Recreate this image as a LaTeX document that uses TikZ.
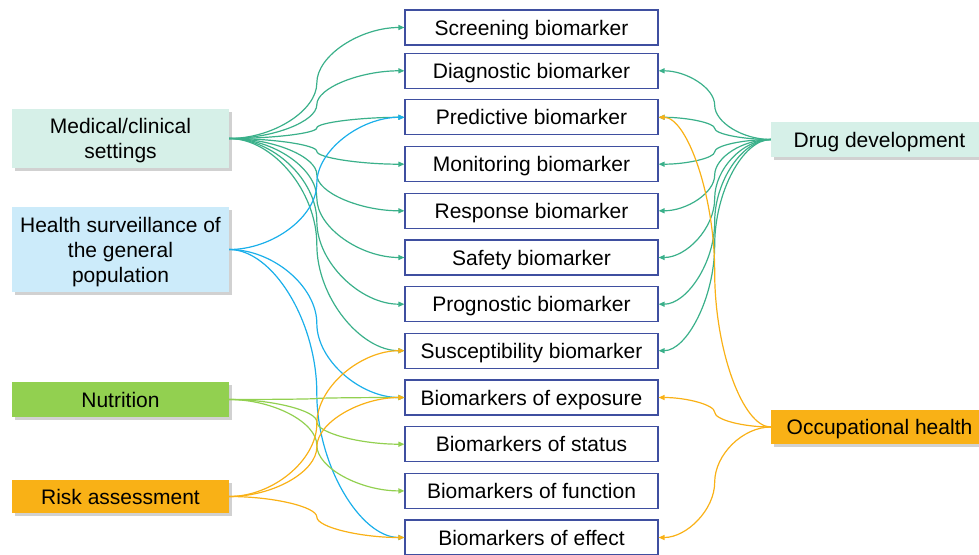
\documentclass[tikz,border=0pt]{standalone}
\usepackage{fontspec}
\setmainfont{Liberation Sans}
\usetikzlibrary{arrows.meta,calc,shadows}
\definecolor{cBorder}{HTML}{3F4FA0}
\definecolor{cMint}{HTML}{D6F0E8}
\definecolor{cSky}{HTML}{CCEBFA}
\definecolor{cLime}{HTML}{92D050}
\definecolor{cAmber}{HTML}{F9B116}
\definecolor{cTealLine}{HTML}{3AB08A}
\definecolor{cBlueLine}{HTML}{1AAFEA}
\definecolor{cLimeLine}{HTML}{92D050}
\definecolor{cAmberLine}{HTML}{F9B116}
\tikzset{
  bm/.style={draw=cBorder, line width=1.1pt, fill=white, minimum width=253pt,
    minimum height=35pt, inner sep=0pt, text height=15pt, text depth=0pt,
    font=\fontsize{21}{25}\selectfont},
  side/.style={minimum width=217pt, inner sep=0pt, align=center,
    font=\fontsize{21}{25}\selectfont,
    drop shadow={shadow xshift=2.5pt, shadow yshift=-2.5pt, fill=black!60, opacity=0.3}},
  oneline/.style={text height=15pt, text depth=0pt},
  ppcurve/.style={to path={let \p1=(\tikztostart), \p2=(\tikztotarget) in
    .. controls ({0.75*\x1+0.25*\x2},\y1) and ({0.5*\x1+0.5*\x2},{0.75*\y1+0.25*\y2})
    .. ({0.5*\x1+0.5*\x2},{0.5*\y1+0.5*\y2})
    .. controls ({0.5*\x1+0.5*\x2},{0.25*\y1+0.75*\y2}) and ({0.25*\x1+0.75*\x2},\y2)
    .. (\tikztotarget)}},
  conn/.style={line width=1.2pt, -{Triangle[length=6pt,width=5pt]}, ppcurve},
}
\begin{document}
\begin{tikzpicture}[x=1pt,y=-1pt]
\useasboundingbox (0,0) rectangle (979,554);
% centre column
\node[bm] (s1) at (531.5,27.5) {Screening biomarker};
\node[bm] (s2) at (531.5,70.8) {Diagnostic biomarker};
\node[bm] (s3) at (531.5,117.3) {Predictive biomarker};
\node[bm] (s4) at (531.5,164.2) {Monitoring biomarker};
\node[bm] (s5) at (531.5,210.8) {Response biomarker};
\node[bm] (s6) at (531.5,257.5) {Safety biomarker};
\node[bm] (s7) at (531.5,304.2) {Prognostic biomarker};
\node[bm] (s8) at (531.5,350.7) {Susceptibility biomarker};
\node[bm] (s9) at (531.5,397.5) {Biomarkers of exposure};
\node[bm] (s10) at (531.5,444.2) {Biomarkers of status};
\node[bm] (s11) at (531.5,490.9) {Biomarkers of function};
\node[bm] (s12) at (531.5,537.5) {Biomarkers of effect};
% left column
\node[side, fill=cMint, minimum height=59pt] (med) at (120.5,138.5) {\rule{0pt}{18.5pt}Medical/clinical\\settings};
\node[side, fill=cSky, minimum height=85pt] (hs) at (120.5,249.5) {\rule{0pt}{19.5pt}Health surveillance of\\the general\\population};
\node[side, oneline, fill=cLime, minimum height=35pt] (nut) at (120.5,399.5) {Nutrition};
\node[side, oneline, fill=cAmber, minimum height=33pt] (risk) at (120.5,496.5) {Risk assessment};
% right column
\node[side, oneline, fill=cMint, minimum height=35pt] (drug) at (879.5,139.5) {Drug development};
\node[side, oneline, fill=cAmber, minimum height=34pt] (occ) at (879.5,427) {Occupational health};
% connectors: medical
\foreach \t in {s1,s2,s3,s4,s5,s6,s7,s8}
  \draw[conn, cTealLine] (med.east) to (\t.west);
% drug development
\foreach \t in {s2,s3,s4,s5,s6,s7,s8}
  \draw[conn, cTealLine] (drug.west) to (\t.east);
% health surveillance
\foreach \t in {s3,s9,s12}
  \draw[conn, cBlueLine] (hs.east) to (\t.west);
% nutrition
\foreach \t in {s9,s10,s11}
  \draw[conn, cLimeLine] (nut.east) to (\t.west);
% risk assessment
\foreach \t in {s8,s9,s12}
  \draw[conn, cAmberLine] (risk.east) to (\t.west);
% occupational health
\foreach \t in {s3,s9,s12}
  \draw[conn, cAmberLine] (occ.west) to (\t.east);
\end{tikzpicture}
\end{document}
